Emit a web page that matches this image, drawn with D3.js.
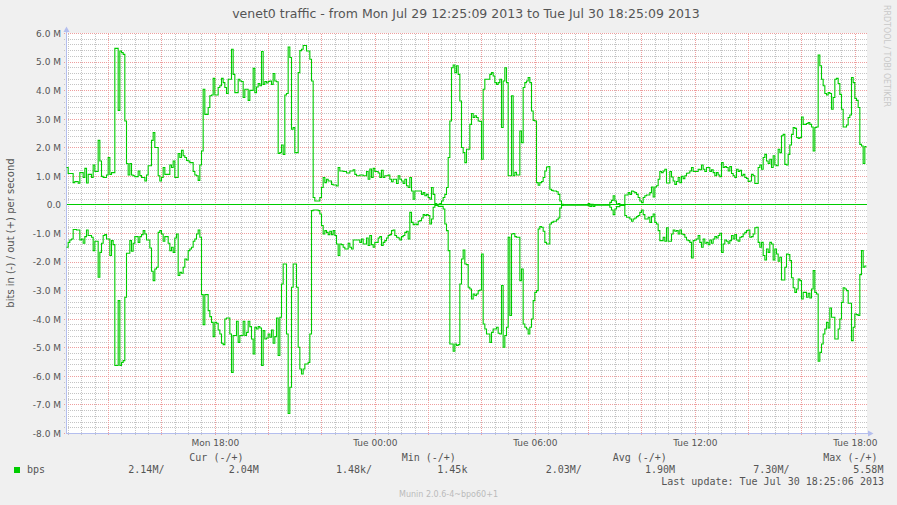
<!DOCTYPE html>
<html><head><meta charset="utf-8">
<script src="https://cdn.jsdelivr.net/npm/d3@7"></script>
<style>html,body{margin:0;padding:0;background:#F0F0F0;}svg{display:block;}</style>
</head><body>
<svg id="chart" width="897" height="505"></svg>
<script>
// ---------- data ----------
const titleText = "venet0 traffic - from Mon Jul 29 12:25:09 2013 to Tue Jul 30 18:25:09 2013";
const yAxisTitle = "bits in (-) / out (+) per second";
const watermark = "RRDTOOL / TOBI OETIKER";
const footer = "Munin 2.0.6-4~bpo60+1";
const startStr = "2013-07-29 12:25:09";
const endStr = "2013-07-30 18:25:09";
const stepSeconds = 225;

const yTickValues = [6, 5, 4, 3, 2, 1, 0, -1, -2, -3, -4, -5, -6, -7, -8];
const yTickLabels = ["6.0 M","5.0 M","4.0 M","3.0 M","2.0 M","1.0 M","0.0","-1.0 M","-2.0 M","-3.0 M","-4.0 M","-5.0 M","-6.0 M","-7.0 M","-8.0 M"];
const xTickTimes = ["2013-07-29 18:00:00","2013-07-30 00:00:00","2013-07-30 06:00:00","2013-07-30 12:00:00","2013-07-30 18:00:00"];
const xTickLabels = ["Mon 18:00","Tue 00:00","Tue 06:00","Tue 12:00","Tue 18:00"];

// out (+) traffic, Mbit/s
const outValues = [
1.31,1.10,1.10,1.10,0.78,0.82,0.82,0.76,1.13,1.13,
0.96,1.28,0.77,1.07,1.07,0.96,1.40,1.17,1.17,2.26,
1.54,1.00,0.96,0.96,1.05,1.66,1.07,1.13,1.13,5.48,
5.48,3.31,5.39,5.33,5.27,2.94,1.45,1.05,1.45,1.05,
1.02,0.99,0.99,1.19,1.03,0.96,0.96,0.84,1.05,1.37,
1.37,2.26,2.53,2.01,2.01,1.02,0.84,0.96,1.31,1.07,
1.07,1.07,1.40,1.31,1.54,0.96,0.96,1.80,1.66,1.91,
1.72,1.66,1.56,1.54,1.48,1.48,1.17,1.05,1.02,0.86,
1.40,1.89,4.05,3.17,3.17,3.41,3.82,3.85,4.43,3.85,
3.85,4.11,4.17,4.43,4.28,4.11,3.90,4.40,4.40,5.45,
4.57,3.93,3.93,4.40,4.34,4.32,3.76,4.05,4.05,3.66,
4.01,4.01,4.78,3.93,4.13,4.25,4.17,5.37,4.22,4.32,
4.27,4.32,4.34,4.22,4.60,4.34,4.31,1.80,1.83,2.10,
1.77,3.85,3.90,5.53,5.16,2.65,2.71,1.83,1.83,4.63,
5.40,5.45,5.58,5.58,5.39,5.39,5.10,4.34,0.26,0.14,
0.14,0.14,0.26,0.61,0.96,0.78,0.90,0.84,0.84,0.72,
0.70,0.70,0.66,1.31,1.19,1.19,1.17,1.17,1.12,1.12,
1.19,1.19,1.23,1.07,1.02,1.02,1.05,1.05,1.02,1.02,
1.17,0.90,1.26,0.96,1.28,1.17,1.17,1.12,0.96,1.21,
0.96,1.02,1.02,1.05,0.90,0.81,0.90,0.90,0.75,1.02,
0.90,0.84,0.75,0.90,0.67,0.61,0.96,0.49,0.20,0.49,
0.49,0.49,0.49,0.37,0.43,0.32,0.37,0.26,0.20,0.61,
0.37,0.05,0.02,0.02,0.05,0.14,0.26,0.37,0.61,1.66,
2.94,4.80,4.90,4.63,4.87,4.57,3.64,2.01,1.83,1.48,
1.95,1.95,2.82,3.20,3.06,3.12,3.06,2.94,2.92,1.60,
4.05,4.40,4.40,4.40,4.57,4.63,4.51,4.28,4.22,4.28,
4.40,2.71,4.34,4.80,4.28,1.02,1.02,3.82,1.02,1.14,
1.05,1.05,2.59,2.18,4.11,4.28,4.34,4.46,4.28,3.29,
2.96,2.94,0.78,0.69,0.78,0.82,0.96,1.19,1.33,1.34,
0.55,0.51,0.49,0.49,0.46,0.37,0.14,0.02,0.002,0.002,
0.002,0.002,0.002,0.002,0.002,0.002,0.002,0.002,
0.002,0.002,0.002,0.002,0.002,0.05,0.002,0.02,0.002,0.002,
0.002,0.002,0.002,0.002,0.002,0.002,0.002,0.002,0.09,0.16,
0.32,0.14,0.02,0.05,0.002,0.002,0.002,0.35,0.35,0.43,
0.37,0.49,0.46,0.43,0.37,0.26,0.14,0.08,0.26,0.32,
0.35,0.35,0.43,0.63,0.28,0.63,0.67,0.90,1.17,1.13,
1.19,1.25,0.77,0.77,1.17,0.98,0.84,0.72,0.82,0.96,
0.78,1.00,0.92,1.02,1.11,1.12,1.19,1.31,1.17,1.17,
1.17,1.25,1.23,1.40,1.25,1.17,1.31,1.31,1.17,1.23,
1.13,1.02,1.13,1.05,0.99,1.48,1.31,1.34,1.31,1.19,
1.34,1.10,1.02,0.96,1.25,1.17,1.21,1.02,1.07,0.96,
0.93,0.82,0.84,1.07,1.02,0.75,0.75,1.31,1.40,1.25,
1.66,1.77,1.54,1.45,1.60,1.31,1.72,1.40,1.37,1.95,
1.83,2.42,2.47,1.42,1.40,1.77,2.10,2.47,2.71,2.68,
2.36,2.33,2.36,3.08,2.82,2.82,2.85,2.88,2.82,2.73,
1.89,2.71,2.73,5.25,4.87,4.40,4.17,3.90,3.85,3.93,
3.90,3.35,3.76,4.40,4.43,4.25,3.87,3.35,2.73,2.73,
2.80,3.06,3.15,4.46,4.28,3.73,3.66,3.41,2.12,2.06,
1.45,2.04
];

// in (-) traffic, Mbit/s (drawn below zero)
const inValues = [
1.48,1.31,1.23,1.19,0.86,0.86,0.88,0.88,1.23,1.19,
1.34,1.11,0.88,1.07,1.07,1.13,1.60,1.27,1.27,2.53,
1.66,1.34,1.07,1.04,1.19,1.19,1.77,1.25,1.39,5.62,
5.62,3.35,5.62,5.51,5.45,3.23,1.69,1.69,1.25,1.62,
1.34,1.11,1.11,1.31,1.11,1.04,0.90,1.02,1.23,1.23,
1.51,2.32,2.65,2.24,2.18,0.96,0.90,1.02,1.27,1.11,
1.11,1.34,1.60,1.48,1.66,1.16,1.02,2.47,2.36,2.39,
2.18,1.89,1.93,1.60,1.54,1.48,1.27,1.19,1.02,0.88,
1.13,3.14,4.19,3.14,3.14,3.70,3.91,4.11,4.61,4.11,
4.14,4.38,4.52,4.84,4.89,3.99,3.96,3.96,4.52,5.86,
4.57,4.57,4.07,4.81,4.57,4.57,4.07,4.57,4.46,4.07,
4.26,4.69,5.22,4.28,4.34,4.26,4.31,5.62,4.40,4.69,
4.66,4.52,4.63,4.38,4.84,4.61,3.96,5.27,3.93,2.77,
2.07,2.07,4.52,7.30,6.38,2.88,2.07,2.07,2.88,4.98,
5.74,5.92,5.74,5.57,5.57,5.51,4.52,0.20,0.18,0.18,
0.18,0.20,0.32,0.72,1.02,0.90,0.96,1.04,0.92,1.04,
0.90,1.07,1.37,1.77,1.37,1.39,1.48,1.54,1.54,1.34,
1.48,1.54,1.23,1.23,1.23,1.23,1.31,1.19,1.37,1.37,
1.16,1.42,1.07,1.39,1.48,1.31,1.31,1.16,1.11,1.42,
1.31,1.25,1.16,1.07,1.04,0.90,0.88,1.07,1.13,1.16,
1.23,1.11,1.07,0.96,0.92,1.19,0.26,0.61,0.69,0.67,
0.69,0.57,0.55,0.46,0.34,0.37,0.34,0.37,0.67,0.49,
0.08,0.02,0.02,0.05,0.05,0.05,0.14,0.67,0.90,1.60,
4.87,4.87,5.12,4.87,4.92,4.89,2.77,1.89,1.58,2.07,
2.09,2.88,2.94,3.29,3.12,3.17,3.12,3.00,2.98,1.72,
4.17,4.34,4.52,4.52,4.81,4.46,4.34,4.34,4.28,4.49,
4.52,2.82,4.98,4.57,4.28,1.13,3.87,1.02,1.00,1.11,
1.13,1.13,2.65,2.24,4.17,4.28,4.34,4.52,4.28,3.99,
3.35,3.06,3.00,0.84,0.76,0.78,0.92,1.31,1.37,1.37,
0.67,0.61,0.57,0.57,0.52,0.46,0.11,0.02,0.002,0.002,
0.002,0.002,0.002,0.002,0.002,0.002,0.002,0.002,
0.002,0.002,0.002,0.002,0.002,0.03,0.05,0.03,0.05,0.002,
0.002,0.002,0.002,0.002,0.002,0.002,0.002,0.002,0.08,0.18,
0.34,0.14,0.06,0.06,0.02,0.02,0.02,0.37,0.43,0.43,
0.49,0.57,0.49,0.46,0.41,0.37,0.26,0.18,0.34,0.49,
0.49,0.43,0.61,0.41,0.32,0.61,0.67,0.90,1.25,1.25,
1.13,1.27,0.80,1.27,1.27,1.02,0.88,0.92,0.90,1.02,
0.88,1.02,1.04,1.13,1.23,1.25,1.31,1.86,1.25,1.23,
1.19,1.07,1.31,1.48,1.19,1.34,1.31,1.39,1.23,1.34,
1.19,1.11,1.16,1.07,0.99,1.66,1.37,1.23,1.27,1.34,
1.25,1.07,1.19,1.04,1.23,1.27,1.13,1.11,1.02,0.96,
0.90,0.88,1.13,1.11,1.02,0.80,0.78,1.31,1.48,1.31,
1.77,1.93,1.54,1.66,1.31,1.37,1.93,1.54,1.72,1.97,
1.83,2.63,2.63,2.18,1.72,1.74,1.95,2.55,2.90,3.06,
2.94,2.59,2.65,3.29,3.06,3.06,3.23,3.09,3.26,2.94,
2.30,3.06,3.12,5.47,5.16,4.87,4.52,4.34,4.11,4.31,
3.61,3.93,3.93,4.69,4.69,4.34,3.99,3.41,2.90,2.94,
3.00,3.44,3.44,4.75,4.28,3.82,3.84,3.87,2.44,1.60,
2.18,2.14
];

const legendHeaders = ["Cur (-/+)", "Min (-/+)", "Avg (-/+)", "Max (-/+)"];
const legendName = "bps";
const legendValues = ["2.14M/", "2.04M", "1.48k/", "1.45k", "2.03M/", "1.90M", "7.30M/", "5.58M"];
const lastUpdate = "Last update: Tue Jul 30 18:25:06 2013";

// ---------- drawing ----------
const parse = d3.timeParse("%Y-%m-%d %H:%M:%S");
const t0 = parse(startStr), t1 = parse(endStr);
const svg = d3.select("#chart");
const W = 897, H = 505;
const L = 66.5, R = 866.5, T = 33.5, B = 433.5;
const green = "#00CC00";
const sans = "DejaVu Sans, sans-serif";
const mono = "DejaVu Sans Mono, monospace";
const textCol = "#555555";
const minorCol = "#C4C4C4";
const majorCol = "#EE9E9E";

svg.append("rect").attr("width", W).attr("height", H).attr("fill", "#F0F0F0");
svg.append("rect").attr("x", 67).attr("y", 33).attr("width", 800).attr("height", 400).attr("fill", "#FFFFFF");

// dot patterns for the dotted grid
const defs = svg.append("defs");
function dotPattern(id, col, w, h) {
  const p = defs.append("pattern").attr("id", id).attr("patternUnits", "userSpaceOnUse")
    .attr("x", 0).attr("y", 0).attr("width", w).attr("height", h);
  p.append("rect").attr("x", 0).attr("y", 0).attr("width", 1).attr("height", 1).attr("fill", col);
}
dotPattern("vMin", minorCol, 1, 2);
dotPattern("vMaj", majorCol, 1, 2);
dotPattern("hMin", minorCol, 2, 1);
dotPattern("hMaj", majorCol, 2, 1);

const x = d3.scaleTime().domain([t0, t1]).range([L, R]);
const y = d3.scaleLinear().domain([-8, 6]).range([B, T]);
const py = v => Math.round(y(v) - 0.5);
const px = d => Math.round(x(d) - 0.5);

const g = svg.append("g").attr("shape-rendering", "crispEdges");
const minorX = d3.timeMinute.every(30).range(t0, t1).filter(d => !(d.getMinutes() === 0 && d.getHours() % 2 === 0));
const majorX = d3.timeHour.every(2).range(t0, t1);
const minorY = d3.range(-40, 31).map(k => k / 5).filter(v => Math.abs(v - Math.round(v)) > 1e-6);
// minor vertical grid (30 min)
g.selectAll(".vmin").data(minorX).enter().append("rect").attr("class", "vmin")
  .attr("x", d => px(d)).attr("y", 33).attr("width", 1).attr("height", 403).attr("fill", "url(#vMin)");
// minor horizontal grid (0.2M)
g.selectAll(".hmin").data(minorY).enter().append("rect").attr("class", "hmin")
  .attr("x", 64).attr("y", d => py(d)).attr("width", 803).attr("height", 1).attr("fill", "url(#hMin)");
// major vertical grid (2 h)
g.selectAll(".vmaj").data(majorX).enter().append("rect").attr("class", "vmaj")
  .attr("x", d => px(d)).attr("y", 33).attr("width", 1).attr("height", 403).attr("fill", "url(#vMaj)");
// major horizontal grid (1M)
g.selectAll(".hmaj").data(yTickValues.filter(v => v !== 0)).enter().append("rect").attr("class", "hmaj")
  .attr("x", 64).attr("y", d => py(d)).attr("width", 803).attr("height", 1).attr("fill", "url(#hMaj)");

// axes lines & arrows
const axisCol = "#B4BEEE";
const ax = svg.append("g").attr("shape-rendering", "crispEdges");
ax.append("rect").attr("x", 66).attr("y", 28).attr("width", 1).attr("height", 406).attr("fill", axisCol);
ax.append("rect").attr("x", 66).attr("y", 433).attr("width", 804).attr("height", 1).attr("fill", axisCol);
svg.append("path").attr("d", `M${L},${T - 7} L${L - 3},${T - 1.5} L${L + 3},${T - 1.5} Z`).attr("fill", axisCol);
svg.append("path").attr("d", `M${R + 7},${B} L${R + 1.5},${B - 3} L${R + 1.5},${B + 3} Z`).attr("fill", axisCol);

// y tick labels
svg.selectAll(".yl").data(yTickValues).enter().append("text")
  .attr("x", 61).attr("y", d => y(d) + 3.3).attr("text-anchor", "end")
  .attr("font-family", sans).attr("font-size", 9).attr("fill", textCol)
  .text((d, i) => yTickLabels[i]);
// x tick labels
svg.selectAll(".xl").data(xTickTimes).enter().append("text")
  .attr("x", d => x(parse(d))).attr("y", 446).attr("text-anchor", "middle")
  .attr("font-family", sans).attr("font-size", 9).attr("fill", textCol)
  .text((d, i) => xTickLabels[i]);

// data lines
const times = outValues.map((d, i) => new Date(t0.getTime() + i * stepSeconds * 1000));
const outPts = outValues.map((v, i) => [times[i], v]).concat([[t1, outValues[outValues.length - 1]]]);
const inPts = inValues.map((v, i) => [times[i], -v]).concat([[t1, -inValues[inValues.length - 1]]]);
const line = d3.line().x(d => x(d[0])).y(d => y(d[1])).curve(d3.curveStepAfter);
// zero rule
svg.append("rect").attr("x", 67).attr("y", Math.round(y(0) - 0.5)).attr("width", 800).attr("height", 1).attr("fill", green);
svg.append("path").attr("d", line(inPts)).attr("fill", "none").attr("stroke", green).attr("stroke-width", 1.1);
svg.append("path").attr("d", line(outPts)).attr("fill", "none").attr("stroke", green).attr("stroke-width", 1.1);

// title
svg.append("text").attr("x", 466).attr("y", 18).attr("text-anchor", "middle")
  .attr("font-family", sans).attr("font-size", 12.5).attr("fill", textCol).text(titleText);
// y axis title
svg.append("text").attr("transform", "translate(14,233) rotate(-90)").attr("text-anchor", "middle")
  .attr("font-family", sans).attr("font-size", 10).attr("fill", textCol).text(yAxisTitle);
// watermark
svg.append("text").attr("transform", "translate(883.5,5) rotate(90)").attr("text-anchor", "start")
  .attr("font-family", sans).attr("font-size", 9.5).attr("fill", "#C8C8C8")
  .attr("textLength", 102).attr("lengthAdjust", "spacingAndGlyphs").text(watermark);

// legend
svg.append("rect").attr("x", 14).attr("y", 467).attr("width", 6).attr("height", 6).attr("fill", green);
svg.append("text").attr("x", 27).attr("y", 473).attr("font-family", mono).attr("font-size", 10).attr("fill", textCol).text(legendName);
const headerX = [189.3, 401.7, 612.7, 823.3];
legendHeaders.forEach((h, i) => svg.append("text").attr("x", headerX[i]).attr("y", 461)
  .attr("font-family", mono).attr("font-size", 10).attr("fill", textCol).text(h));
const valX = [128.3, 228.7, 336, 437.3, 545.7, 645, 753.3, 853.3];
legendValues.forEach((v, i) => svg.append("text").attr("x", valX[i]).attr("y", 473)
  .attr("font-family", mono).attr("font-size", 10).attr("fill", textCol).text(v));
svg.append("text").attr("x", 884).attr("y", 485).attr("text-anchor", "end")
  .attr("font-family", mono).attr("font-size", 10).attr("fill", textCol).text(lastUpdate);
svg.append("text").attr("x", 448.5).attr("y", 497).attr("text-anchor", "middle")
  .attr("font-family", sans).attr("font-size", 8).attr("fill", "#BBBBBB").text(footer);
</script>
</body></html>
